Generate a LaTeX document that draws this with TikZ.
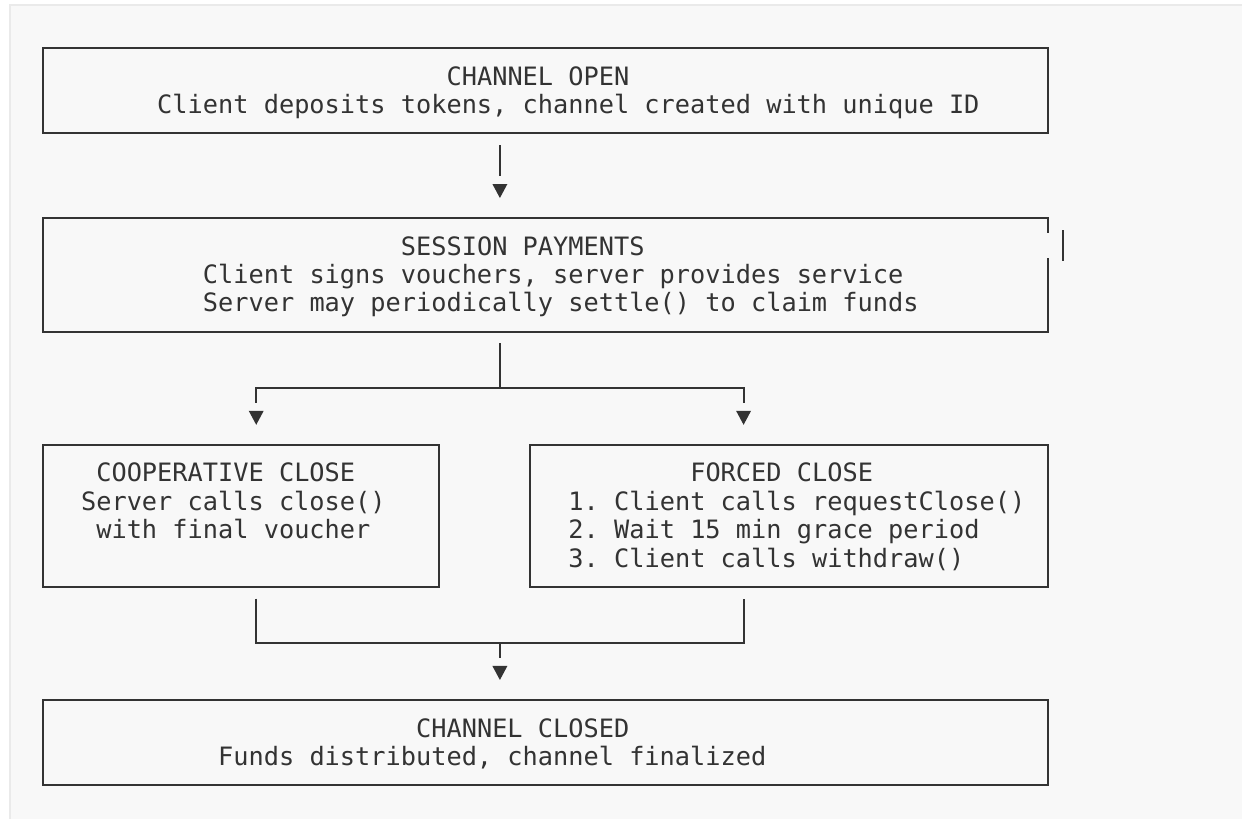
\documentclass[tikz,border=0pt]{standalone}
\usepackage{fontspec}
\newfontfamily\diagmono{DejaVu Sans Mono}
\usetikzlibrary{calc,fit}
\definecolor{ink}{HTML}{333333}
\definecolor{panel}{HTML}{F8F8F8}
\definecolor{paneledge}{HTML}{EAEAEA}
\frenchspacing
% grid: column centre x = 43 + 15.23 c ; box line y = 48 + 28.35 r ; baseline y = 56.7 + 28.35 r
\newcommand\tline[4]{\node[txt] (#1) at ({35.385+15.23*#2},{56.7+28.35*#3}) {#4};}
\newcommand\gridbox[5]{%
  \path ({43+15.23*#2},{48+28.35*#3}) coordinate (#1-a)
        ({43+15.23*#4},{48+28.35*#5}) coordinate (#1-b);}
\newcommand\tritip[1]{\fill[ink] (#1) -- ++(-7.5,-14) -- ++(15,0) -- cycle;}
\begin{document}
\begin{tikzpicture}[x=0.75pt,y=-0.75pt,
  box/.style={draw=ink, line width=1.5pt, inner sep=0pt, outer sep=0pt, rectangle},
  ghost/.style={inner sep=0pt, outer sep=0pt, rectangle},
  txt/.style={anchor=base west, inner sep=0pt, outer sep=0pt, text=ink,
              font=\diagmono\fontsize{18.97pt}{22pt}\selectfont},
  conn/.style={draw=ink, line width=1.5pt},
]
\useasboundingbox (0,0) rectangle (1242,818);
\fill[panel] (10,5) rectangle (1260,830);
\draw[paneledge, line width=1pt] (1260,5) -- (10,5) -- (10,830);

% column coordinates
\coordinate (c14) at ({43+15.23*14},0);
\coordinate (c30) at ({43+15.23*30},0);
\coordinate (c46) at ({43+15.23*46},0);
\coordinate (c67) at ({43+15.23*67},0);
\coordinate (r12) at (0,{48+28.35*12});
\coordinate (r21) at (0,{48+28.35*21});

% boxes
\gridbox{g1}{0}{0}{66}{3}
\node[box, fit=(g1-a)(g1-b)] (b1) {};
\gridbox{g2}{0}{6}{66}{10}
\node[ghost, fit=(g2-a)(g2-b)] (b2) {};
\gridbox{g3}{0}{14}{26}{19}
\node[box, fit=(g3-a)(g3-b)] (b3) {};
\gridbox{g4}{32}{14}{66}{19}
\node[box, fit=(g4-a)(g4-b)] (b4) {};
\gridbox{g5}{0}{23}{66}{26}
\node[box, fit=(g5-a)(g5-b)] (b5) {};

% session box border with its shifted right edge
\draw[conn] ($(b2.north east)+(0,14.4)$) -- (b2.north east) -- (b2.north west)
  -- (b2.south west) -- (b2.south east) -- ($(b2.north east)+(0,40.3)$);
\draw[conn] ($(b2.north east -| c67)+(0,12.0)$) -- ($(b2.north east -| c67)+(0,42.8)$);

% texts
\tline{t1a}{27}{1}{CHANNEL OPEN}
\tline{t1b}{8}{2}{Client deposits tokens, channel created with unique ID}
\tline{t2a}{24}{7}{SESSION PAYMENTS}
\tline{t2b}{11}{8}{Client signs vouchers, server provides service}
\tline{t2c}{11}{9}{Server may periodically settle() to claim funds}
\tline{t3a}{4}{15}{COOPERATIVE CLOSE}
\tline{t3b}{3}{16}{Server calls close()}
\tline{t3c}{4}{17}{with final voucher}
\tline{t4a}{43}{15}{FORCED CLOSE}
\tline{t4b}{35}{16}{1. Client calls requestClose()}
\tline{t4c}{35}{17}{2. Wait 15 min grace period}
\tline{t4d}{35}{18}{3. Client calls withdraw()}
\tline{t5a}{25}{24}{CHANNEL CLOSED}
\tline{t5b}{12}{25}{Funds distributed, channel finalized}

% connector: open -> session
\draw[conn] ($(b1.south -| c30)+(0,11.95)$) -- ($(b2.north -| c30)+(0,-42.3)$);
\tritip{$(b2.north -| c30)+(0,-20.1)$}

% connector: session -> two closes
\draw[conn] ($(b2.south -| c30)+(0,11.95)$) -- (c30 |- r12);
\draw[conn] ($(b3.north -| c14)+(0,-42.3)$) -- (c14 |- r12) -- (c46 |- r12)
  -- ($(b4.north -| c46)+(0,-42.3)$);
\tritip{$(b3.north -| c14)+(0,-20.1)$}
\tritip{$(b4.north -| c46)+(0,-20.1)$}

% connector: closes -> closed
\draw[conn] ($(b3.south -| c14)+(0,11.95)$) -- (c14 |- r21) -- (c46 |- r21)
  -- ($(b4.south -| c46)+(0,11.95)$);
\draw[conn] (c30 |- r21) -- ($(b5.north -| c30)+(0,-42.3)$);
\tritip{$(b5.north -| c30)+(0,-20.1)$}
\end{tikzpicture}
\end{document}
